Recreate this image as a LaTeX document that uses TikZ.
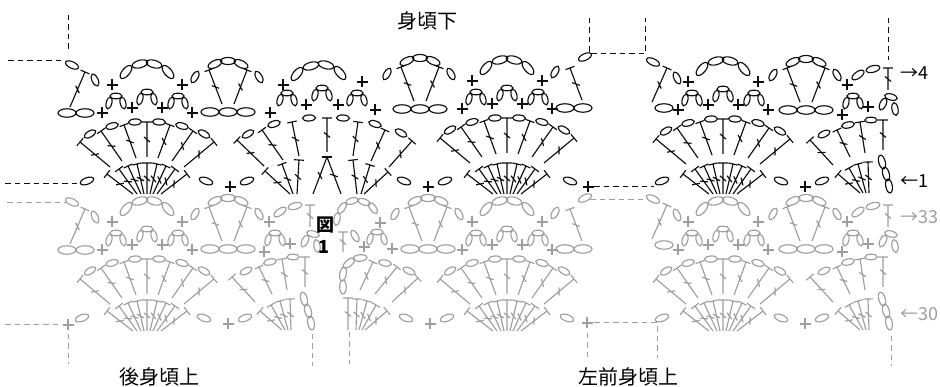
\documentclass[tikz,border=0pt]{standalone}
\usepackage{fontspec}
\newfontfamily\jp{Noto Sans CJK JP}
\usetikzlibrary{calc}
\definecolor{bc}{RGB}{15,15,15}
\definecolor{gc}{RGB}{158,158,158}
\tikzset{st/.style={line width=1.15pt},
  dsh/.style={line width=1pt,dash pattern=on 5.5pt off 4pt},
  lbl/.style={inner sep=0pt,font=\jp\fontsize{20}{22}\selectfont},
  rowlbl/.style={inner sep=0pt,anchor=west,font=\jp\fontsize{18}{20}\selectfont}}
% chain stitch (oval): [size]{x}{y}{rotation}
\newcommand\chst[4][7]{\draw[st,rotate around={#4:({#2},{#3})}] ({#2},{#3}) ellipse [x radius=#1,y radius={0.47*#1}];}
% single crochet (+)
\newcommand\scst[2]{\draw[st] ({#1-5.5},{#2})--({#1+5.5},{#2}) ({#1},{#2-5.5})--({#1},{#2+5.5});}
% double crochet: base x,y ; top x,y
\newcommand\dcst[4]{\draw[st] ({#1},{#2})--({#3},{#4})
 ($({#3},{#4})!4.8pt!90:({#1},{#2})$)--($({#3},{#4})!4.8pt!-90:({#1},{#2})$)
 ($({(#1+#3)/2},{(#2+#4)/2})!4pt!50:({#3},{#4})$)--($({(#1+#3)/2},{(#2+#4)/2})!4pt!-130:({#3},{#4})$);}
\newcommand\dcleg[4]{\draw[st] ({#1},{#2})--({#3},{#4})
 ($({(#1+#3)/2},{(#2+#4)/2})!4pt!50:({#3},{#4})$)--($({(#1+#3)/2},{(#2+#4)/2})!4pt!-130:({#3},{#4})$);}
% small arch of three chains
\newcommand\picst[2]{\chst[6]{#1-7}{#2+2}{75}\chst[6]{#1}{#2-5}{0}\chst[6]{#1+7}{#2+2}{-75}}
% regular fan unit, rows 1-4: {cx}{dy}
\newcommand\fanR[2]{%
\foreach \tx/\ty/\bx in {-40/174/-14,-28/169/-10,-19/166/-6,-10/164/-3,0/163/0,10/164/3,19/166/6,28/169/10,40/174/14}{\dcst{#1+\bx}{194}{#1+\tx}{\ty}}%
\foreach \tx/\ty/\bx/\by in {-67/142/-37/167,-46/131/-25/161,-23/125/-11/158,0/122/0/157,23/125/11/158,46/131/25/161,67/142/37/167}{\dcst{#1+\bx}{\by+#2}{#1+\tx}{\ty+#2}}%
\foreach \ox/\oy/\orr in {-57/134/30,-35/126/15,-12/122/3,12/122/-3,35/126/-15,57/134/-30}{\chst[6.5]{#1+\ox}{\oy+#2}{\orr}}%
\scst{#1-45}{113+#2}\scst{#1-15}{108+#2}\scst{#1+15}{108+#2}\scst{#1+45}{113+#2}%
\picst{#1-31}{101+#2}\picst{#1}{97+#2}\picst{#1+31}{101+#2}%
\scst{#1-35}{85+#2}\scst{#1+35}{85+#2}%
\chst[8]{#1-21}{72+#2}{50}\chst[8]{#1-7}{64+#2}{15}\chst[8]{#1+7}{64+#2}{-15}\chst[8]{#1+21}{72+#2}{-50}}
% V unit between fans: {vx}{dy}{vx of row 1}
\newcommand\vR[3]{%
\chst{#3-24}{181}{-20}\scst{#3}{187}\chst{#3+17}{181}{20}%
\chst[9]{#1-18}{112+#2}{0}\chst[9]{#1}{112+#2}{0}\chst[9]{#1+18}{112+#2}{0}%
\chst[6.5]{#1-33}{77+#2}{60}\dcst{#1-6}{104+#2}{#1-19}{70+#2}%
\chst[7.5]{#1-13}{64+#2}{25}\chst[7.5]{#1}{61+#2}{0}\chst[7.5]{#1+13}{64+#2}{-25}%
\dcst{#1+6}{104+#2}{#1+19}{70+#2}\chst[6.5]{#1+31}{77+#2}{-60}}
% left edge of left panel (rows 3-4)
\newcommand\lpLeft{%
\chst[9]{67}{113}{0}\chst[9]{85}{113}{0}%
\chst{72}{65}{-25}\dcst{70}{107}{85}{72}\chst[6.5]{95}{80}{-65}}
% right end of left panel (rows 3-4): {dy}
\newcommand\lpRight[1]{%
\chst[9]{565}{112+#1}{0}\chst[9]{583}{112+#1}{0}%
\chst[6.5]{555}{76+#1}{60}\dcst{582}{104+#1}{570}{72+#1}\chst{585}{61+#1}{25}}
% left edge of right panel
\newcommand\rpLeft{%
\chst{662}{181}{20}\chst[9]{664}{108}{0}%
\chst{653}{62}{-25}\dcst{652}{102}{667}{68}\chst[6.5]{677}{78}{-65}}
% right edge (half fan and turning chains)
\newcommand\rEdge{%
\foreach \tx/\ty/\bx in {838/174/860,849/168/863,858/164/866,868/162/869}{\dcst{\bx}{193}{\tx}{\ty}}%
\chst{882}{162}{-75}\chst{886}{174}{-75}\chst{889}{186}{-80}%
\dcst{833}{165}{810}{140}\dcst{850}{157}{837}{130}\dcst{865}{153}{860}{122}\dcst{883}{150}{883}{120}%
\chst[6.5]{824}{134}{25}\chst[6.5]{848}{125}{12}\chst[6]{871}{120}{0}%
\scst{842}{115}\picst{853}{101}\scst{868}{107}%
\chst[6.5]{883}{104}{65}\chst[6.5]{891}{97}{-15}\chst[6.5]{895}{109}{-80}%
\scst{847}{85}\chst{858}{75}{35}\chst{873}{69}{15}\dcst{888}{90}{888}{68}}
% joined fan (black, over the seam)
\newcommand\fanTwo{%
\dcst{290}{194}{265}{171}\dcst{293}{194}{282}{164}\dcst{297}{194}{299}{160}%
\dcleg{313}{194}{327}{157}\dcleg{341}{194}{327}{157}\draw[st] (322,157)--(332,157);%
\dcst{357}{194}{353}{160}\dcst{361}{194}{370}{165}\dcst{364}{194}{388}{172}%
\foreach \tx/\ty/\bx/\by in {237/140/264/166,262/130/283/160,292/122/299/156,327/118/327/152,358/122/353/156,385/130/371/161,412/141/389/167}{\dcst{\bx}{\by}{\tx}{\ty}}%
\foreach \ox/\oy/\orr in {248/134/30,274/124/18,309/118/3,343/118/-3,375/124/-18,401/133/-30}{\chst[6.5]{\ox}{\oy}{\orr}}%
\scst{270}{113}\picst{287}{98}\scst{306}{105}\picst{322}{93}\scst{338}{105}\picst{357}{98}\scst{375}{110}%
\scst{283}{85}\chst[8]{297}{74}{50}\chst[8]{311}{66}{15}\chst[8]{326}{65}{-15}\chst[8]{340}{73}{-50}\scst{362}{82}}
% left edge of the front piece (grey)
\newcommand\frontLeft{%
\chst[6.5]{337}{82}{80}\chst[6.5]{342}{71}{55}\chst[6.5]{352}{64}{15}\chst[6.5]{364}{65}{-20}\chst[6.5]{373}{71}{-55}\scst{380}{86}%
\dcst{343}{115}{343}{95}\chst[6.5]{355}{99}{-60}\scst{364}{110}\picst{377}{100}\scst{392}{112}%
\chst{343}{150}{90}\chst{343}{137}{80}\chst{349}{126}{40}\chst{360}{121}{5}%
\dcst{360}{153}{373}{125}\chst[6.5]{385}{126}{-10}\dcst{375}{157}{397}{130}\chst[6.5]{409}{134}{-25}\dcst{392}{165}{418}{141}%
\dcst{348}{193}{348}{161}%
\foreach \tx/\ty/\bx in {357/162/356,367/164/359,376/168/362,387/174/365}{\dcst{\bx}{193}{\tx}{\ty}}}
\begin{document}
\begin{tikzpicture}[x=1pt,y=-1pt]
\useasboundingbox (0,0) rectangle (940,387);
% ---------- black part: body bottom, rows 1-4
\begin{scope}[color=bc]
\lpLeft \chst{87}{181}{20}
\fanR{147}{0}
\vR{228}{0}{230}
\fanTwo
\vR{420}{-3}{428}
\fanR{507}{-4}
\lpRight{-4}\chst{570}{181}{-20}\scst{588}{187}
\rpLeft
\fanR{723}{-3}
\vR{806}{-2}{805}
\rEdge
\draw[dsh] (68,15)--(68,52);
\draw[dsh] (8,61)--(65,61);
\draw[dsh] (5,184)--(80,184);
\draw[dsh] (589,18)--(589,54)--(645,54)--(645,18);
\draw[dsh] (594,187)--(654,187);
\draw[dsh] (888,18)--(888,60);
\end{scope}
% ---------- grey part: rows 30-33
\begin{scope}[shift={(0,137)},color=gc]
\lpLeft \scst{68}{188}\chst{82}{181}{20}
\fanR{147}{0}
\vR{228}{0}{228}
\begin{scope}[shift={(-578,0)}]\rEdge\end{scope}
\frontLeft
\vR{428}{0}{430}
\fanR{507}{0}
\lpRight{0}\chst{567}{181}{-20}\scst{587}{186}
\rpLeft
\fanR{723}{0}
\vR{806}{0}{805}
\rEdge
\end{scope}
\begin{scope}[color=gc]
\draw[dsh] (7,203)--(66,203);
\draw[dsh] (5,325)--(61,325);
\draw[dsh] (68,334)--(68,364);
\draw[dsh] (312,334)--(312,366);
\draw[dsh] (349,332)--(349,364);
\draw[dsh] (590,200)--(645,200);
\draw[dsh] (594,323)--(657,323)--(657,358);
\draw[dsh] (587,333)--(587,358);
\draw[dsh] (891,336)--(891,366);
\end{scope}
% ---------- labels
\node[lbl] (tbody) at (427,21) {身頃下};
\node[lbl] (tback) at (159,377) {後身頃上};
\node[lbl] (tfront) at (628,377) {左前身頃上};
\node[rowlbl] (r4) at (900,73) {→4};
\node[rowlbl] (r1) at (900,181) {←1};
\node[rowlbl,text=gc] (r33) at (900,217) {→33};
\node[rowlbl,text=gc] (r30) at (900,314) {←30};
\node[inner sep=0pt,font=\jp\bfseries\fontsize{18}{19}\selectfont] (fig) at (325,225) {図};
\node[inner sep=0pt,font=\jp\bfseries\fontsize{18}{19}\selectfont] (fignum) at (324,247) {1};
\end{tikzpicture}
\end{document}
